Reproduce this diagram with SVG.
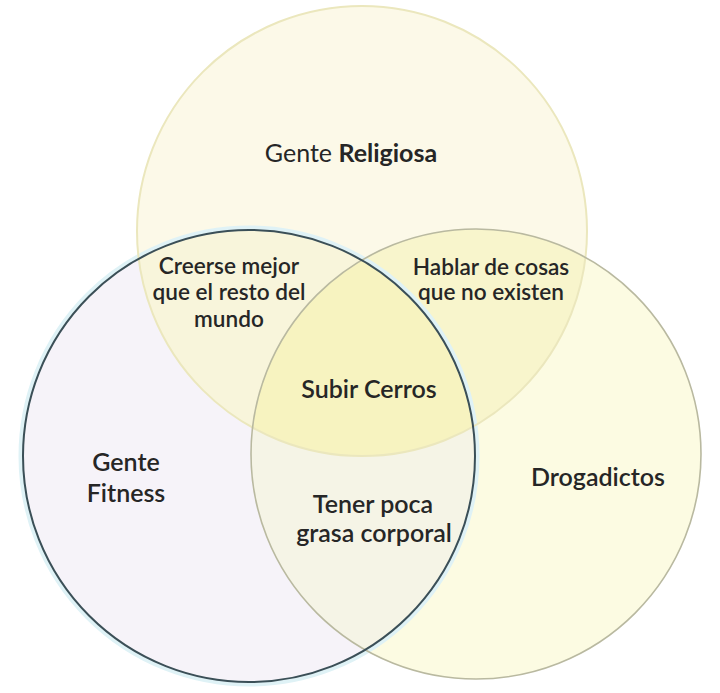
<svg xmlns="http://www.w3.org/2000/svg" width="720" height="693" viewBox="0 0 720 693">
  <defs>
    <clipPath id="cT"><circle cx="362" cy="231" r="225"/></clipPath>
    <clipPath id="cL"><circle cx="249" cy="456" r="226"/></clipPath>
    <clipPath id="cR"><circle cx="476" cy="454" r="225"/></clipPath>
  </defs>
  <style>
    .lbl { font-family: Lato, "Noto Sans", "Liberation Sans", sans-serif; font-size: 25px; font-weight: 600; fill: #262626; text-anchor: middle; }
    .sm { font-size: 22.6px; }
  </style>
  <rect width="720" height="693" fill="#ffffff"/>
  <g id="regions">
    <circle cx="249" cy="456" r="226" fill="#f6f3f9"/>
    <circle cx="476" cy="454" r="225" fill="#fcfbe2"/>
    <circle cx="362" cy="231" r="225" fill="#fcf9e8"/>
    <g clip-path="url(#cL)"><circle cx="476" cy="454" r="225" fill="#f5f4e6"/></g>
    <g clip-path="url(#cL)"><circle cx="362" cy="231" r="225" fill="#f8f5db"/></g>
    <g clip-path="url(#cR)"><circle cx="362" cy="231" r="225" fill="#f8f5cc"/></g>
    <g clip-path="url(#cL)"><g clip-path="url(#cR)"><circle cx="362" cy="231" r="225" fill="#f7f3c0"/></g></g>
  </g>
  <g id="outlines" fill="none">
    <circle cx="249" cy="456" r="228" stroke="#dff2f6" stroke-width="5"/>
    <circle cx="362" cy="231" r="225" stroke="#ebe7bd" stroke-width="2"/>
    <circle cx="476" cy="454" r="225" stroke="#b9b9a0" stroke-width="1.6"/>
    <circle cx="249" cy="456" r="226" stroke="#3b4f57" stroke-width="2"/>
  </g>
  <g id="node-religiosa">
    <text class="lbl" x="351" y="162"><tspan font-weight="400">Gente </tspan><tspan font-weight="700">Religiosa</tspan></text>
  </g>
  <g id="node-fitness">
    <text class="lbl" x="126" y="471">Gente</text>
    <text class="lbl" x="126" y="502">Fitness</text>
  </g>
  <g id="node-drogadictos">
    <text class="lbl" x="598" y="486">Drogadictos</text>
  </g>
  <g id="node-creerse">
    <text class="lbl sm" x="229" y="274">Creerse mejor</text>
    <text class="lbl sm" x="229" y="300">que el resto del</text>
    <text class="lbl sm" x="229" y="327">mundo</text>
  </g>
  <g id="node-hablar">
    <text class="lbl sm" x="491" y="275">Hablar de cosas</text>
    <text class="lbl sm" x="491" y="300">que no existen</text>
  </g>
  <g id="node-subir">
    <text class="lbl" x="369" y="398">Subir Cerros</text>
  </g>
  <g id="node-tener">
    <text class="lbl" x="373" y="513">Tener poca</text>
    <text class="lbl" x="374" y="542">grasa corporal</text>
  </g>
</svg>
